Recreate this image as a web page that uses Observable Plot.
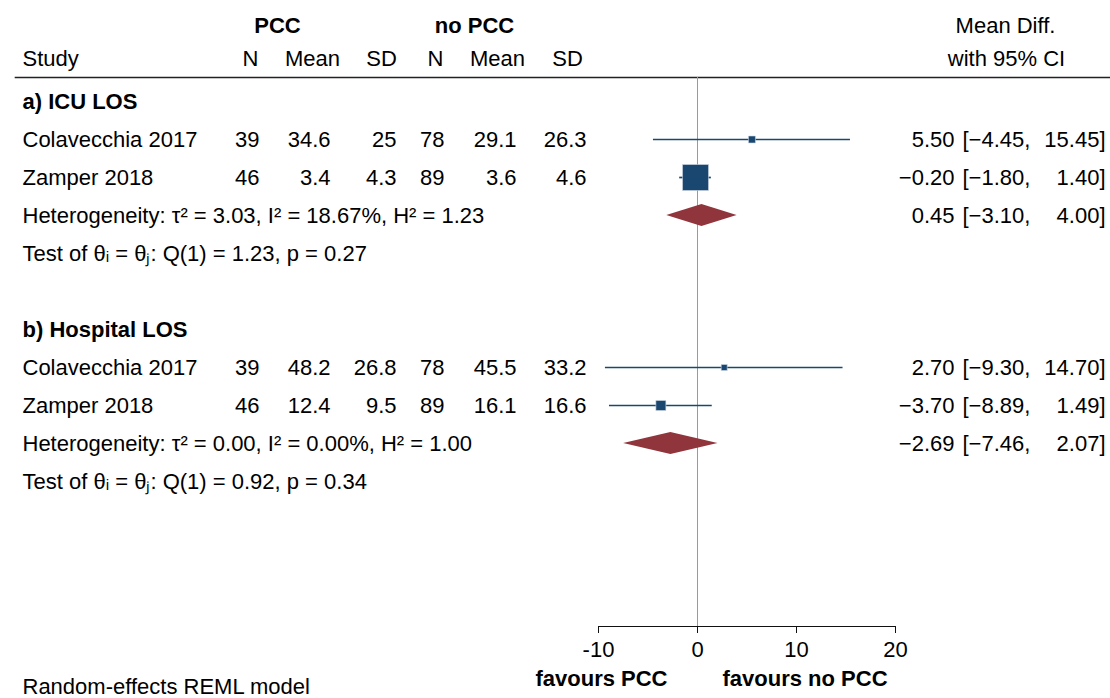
<!DOCTYPE html>
<html>
<head>
<meta charset="utf-8">
<script src="https://cdn.jsdelivr.net/npm/d3@7"></script>
<script src="https://cdn.jsdelivr.net/npm/@observablehq/plot@0.6"></script>
<style>
  html, body { margin: 0; padding: 0; background: #fff; }
  svg { display: block; }
</style>
</head>
<body>
<div id="chart"></div>
<script>
// ---------------- data ----------------
const xTicks = [-10, 0, 10, 20];
const groupNames = ["a) ICU LOS", "b) Hospital LOS"];
const studyNames = ["Colavecchia 2017", "Zamper 2018", "Colavecchia 2017", "Zamper 2018"];
const studyGroup = [0, 0, 1, 1];
const pccN = [39, 46, 39, 46];
const pccMean = [34.6, 3.4, 48.2, 12.4];
const pccSD = [25, 4.3, 26.8, 9.5];
const noN = [78, 89, 78, 89];
const noMean = [29.1, 3.6, 45.5, 16.1];
const noSD = [26.3, 4.6, 33.2, 16.6];
const meanDiff = [5.50, -0.20, 2.70, -3.70];
const ciLow = [-4.45, -1.80, -9.30, -8.89];
const ciHigh = [15.45, 1.40, 14.70, 1.49];
const markerWeight = [49, 676, 36, 100];   // relative marker areas
const pooledDiff = [0.45, -2.69];
const pooledLow = [-3.10, -7.46];
const pooledHigh = [4.00, 2.07];
const tau2 = ["3.03", "0.00"];
const iSq = ["18.67%", "0.00%"];
const hSq = ["1.23", "1.00"];
const qStat = ["1.23", "0.92"];
const pValue = ["0.27", "0.34"];
const groupHeaders = ["PCC", "no PCC"];
const columnHeaders = ["N", "Mean", "SD", "N", "Mean", "SD"];
const favourLabels = ["favours PCC", "favours no PCC"];
const modelNote = "Random-effects REML model";

// ---------------- layout ----------------
const W = 1110, H = 698;
const L = 15;                 // frame left
const rowPx = 38;
const frameTop = 77, frameBottom = 626;
const firstRowPx = 101;
const FONT = "'Liberation Sans', Arial, Helvetica, sans-serif";
const FS = 22;
const navy = "#1a476f", maroon = "#90353b";

const minus = s => s.replace(/-/g, "\u2212");
const f2 = d => minus(d3.format(".2f")(d));

const rowsPerGroup = 6;
const studies = studyNames.map((name, i) => {
  const g = studyGroup[i];
  const k = studyGroup.slice(0, i).filter(v => v === g).length;
  return {
    name, g, row: g * rowsPerGroup + 1 + k,
    pccN: String(pccN[i]), pccMean: String(pccMean[i]), pccSD: String(pccSD[i]),
    noN: String(noN[i]), noMean: String(noMean[i]), noSD: String(noSD[i]),
    est: meanDiff[i], lo: ciLow[i], hi: ciHigh[i], w: markerWeight[i]
  };
});
const groups = groupNames.map((name, g) => {
  const n = studyGroup.filter(v => v === g).length;
  return {
    name, head: g * rowsPerGroup, het: g * rowsPerGroup + 1 + n, test: g * rowsPerGroup + 2 + n,
    est: pooledDiff[g], lo: pooledLow[g], hi: pooledHigh[g],
    hetText: `Heterogeneity: \u03c4\u00b2 = ${tau2[g]}, I\u00b2 = ${iSq[g]}, H\u00b2 = ${hSq[g]}`,
    testText: `Test of \u03b8\u1d62 = \u03b8\u2c7c: Q(1) = ${qStat[g]}, p = ${pValue[g]}`
  };
});

const yDomain = [(frameTop - firstRowPx) / rowPx, (frameBottom - firstRowPx) / rowPx];
const dh = 11 / rowPx;

const diamondPts = groups.flatMap(g => [
  {g: g.name, x: g.lo, y1: g.het, y2: g.het},
  {g: g.name, x: g.est, y1: g.het - dh, y2: g.het + dh},
  {g: g.name, x: g.hi, y1: g.het, y2: g.het}
]);

// columns: data right edges and header centres in px
const numCols = [
  {key: "pccN", right: 259, head: 250}, {key: "pccMean", right: 330, head: 312}, {key: "pccSD", right: 396, head: 381},
  {key: "noN", right: 444, head: 435}, {key: "noMean", right: 516, head: 497}, {key: "noSD", right: 586, head: 567}
];

const txt = {fontFamily: FONT, fontSize: FS, fill: "#000", lineAnchor: "middle"};

const marks = [
  Plot.frame({anchor: "top", stroke: "#222", strokeWidth: 1.6}),
  Plot.ruleX([0], {stroke: "#9a9a9a", strokeWidth: 1}),
  Plot.ruleY([yDomain[1]], {x1: d3.min(xTicks), x2: d3.max(xTicks), stroke: "#111", strokeWidth: 1}),
  Plot.axisX({ticks: xTicks, tickSize: 7, tickPadding: 8, fontSize: FS, fontFamily: FONT,
              tickFormat: d => String(d), label: null, anchor: "bottom", stroke: "#111", fill: "#000"}),
  Plot.ruleY(studies, {y: "row", x1: "lo", x2: "hi", stroke: navy, strokeWidth: 1.7}),
  Plot.dot(studies, {x: "est", y: "row", r: "w", symbol: "square", fill: navy, stroke: "#cfd9e4", strokeWidth: 0.6}),
  Plot.areaY(diamondPts, {x: "x", y1: "y1", y2: "y2", z: "g", fill: maroon})
];

[{t: groupHeaders[0], cx: 277}, {t: groupHeaders[1], cx: 474}].forEach(h => {
  marks.push(Plot.text([h.t], {text: d => d, frameAnchor: "top-left", dx: h.cx - L, dy: -52,
    textAnchor: "middle", ...txt, fontWeight: "bold"}));
});
marks.push(Plot.text(["Study"], {text: d => d, frameAnchor: "top-left", dx: 22 - L, dy: -19, textAnchor: "start", ...txt}));
columnHeaders.forEach((h, j) => {
  marks.push(Plot.text([h], {text: d => d, frameAnchor: "top-left", dx: numCols[j].head - L, dy: -19, textAnchor: "middle", ...txt}));
});
marks.push(Plot.text(["Mean Diff."], {text: d => d, frameAnchor: "top-left", dx: 1005 - L, dy: -52, textAnchor: "middle", ...txt}));
marks.push(Plot.text(["with 95% CI"], {text: d => d, frameAnchor: "top-left", dx: 1006 - L, dy: -19, textAnchor: "middle", ...txt}));

marks.push(Plot.text(groups, {y: "head", text: "name", frameAnchor: "left", dx: 22 - L, textAnchor: "start", ...txt, fontWeight: "bold"}));
marks.push(Plot.text(groups, {y: "het", text: "hetText", frameAnchor: "left", dx: 22 - L, textAnchor: "start", ...txt}));
marks.push(Plot.text(groups, {y: "test", text: "testText", frameAnchor: "left", dx: 22 - L, textAnchor: "start", ...txt}));

marks.push(Plot.text(studies, {y: "row", text: "name", frameAnchor: "left", dx: 22 - L, textAnchor: "start", ...txt}));
numCols.forEach(c => {
  marks.push(Plot.text(studies, {y: "row", text: c.key, frameAnchor: "left", dx: c.right - L, textAnchor: "end", ...txt}));
});

const effRows = [
  ...studies.map(s => ({row: s.row, est: s.est, lo: s.lo, hi: s.hi})),
  ...groups.map(g => ({row: g.het, est: g.est, lo: g.lo, hi: g.hi}))
];
marks.push(Plot.text(effRows, {y: "row", text: d => f2(d.est), frameAnchor: "left", dx: 954 - L, textAnchor: "end", ...txt}));
marks.push(Plot.text(effRows, {y: "row", text: d => "[" + f2(d.lo) + ",", frameAnchor: "left", dx: 962 - L, textAnchor: "start", ...txt}));
marks.push(Plot.text(effRows, {y: "row", text: d => f2(d.hi) + "]", frameAnchor: "left", dx: 1105 - L, textAnchor: "end", ...txt}));

marks.push(Plot.text([favourLabels[0]], {x: 0, text: d => d, frameAnchor: "bottom", dy: 52, dx: -30, textAnchor: "end", ...txt, fontWeight: "bold"}));
marks.push(Plot.text([favourLabels[1]], {x: 0, text: d => d, frameAnchor: "bottom", dy: 52, dx: 25, textAnchor: "start", ...txt, fontWeight: "bold"}));

marks.push(Plot.text([modelNote], {text: d => d, frameAnchor: "bottom-left", dx: 22 - L, dy: 60, textAnchor: "start", ...txt}));

const chart = Plot.plot({
  width: W, height: H,
  marginLeft: L, marginRight: 0, marginTop: frameTop, marginBottom: H - frameBottom,
  style: {fontFamily: FONT, fontSize: FS + "px", background: "#fff", color: "#000"},
  x: {domain: d3.extent(xTicks), range: [598, 895], axis: null},
  y: {domain: yDomain, reverse: true, axis: null},
  r: {type: "sqrt", domain: [0, d3.max(markerWeight)], range: [0, 26 / Math.sqrt(Math.PI)]},
  marks
});
document.getElementById("chart").appendChild(chart);
</script>
</body>
</html>
